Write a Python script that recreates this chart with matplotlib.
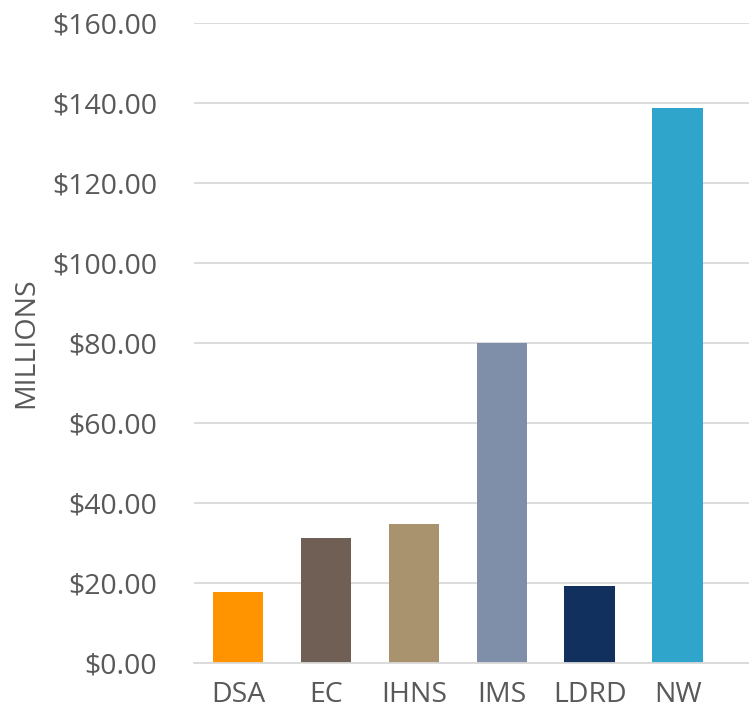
import matplotlib
matplotlib.use("Agg")
import matplotlib.pyplot as plt
from matplotlib.ticker import FuncFormatter

# program funding by line of business, in millions of dollars
programs = ["DSA", "EC", "IHNS", "IMS", "LDRD", "NW"]
funding = [17.7, 31.2, 34.7, 79.9, 19.2, 138.7]
colors = ["#FF9300", "#705F54", "#A9936E", "#7F8FA9", "#11305E", "#2FA5CB"]

plt.rcParams['font.family'] = ['Open Sans', 'DejaVu Sans']
grey = "#595959"

fig = plt.figure(figsize=(7.49, 7.17), dpi=100)
ax = fig.add_axes([194 / 749, 54.3 / 717, 1 - 194 / 749, 640 / 717])

x = range(len(programs))
ax.bar(x, funding, width=0.576, color=colors, zorder=3)

ax.set_ylim(0, 160)
ax.set_xlim(-0.5, 5.81)
ax.set_yticks(range(0, 161, 20))
ax.yaxis.set_major_formatter(FuncFormatter(lambda v, p: "${:,.2f}".format(v)))
ax.set_xticks(list(x))
ax.set_xticklabels(programs)

ax.grid(axis="y", color="#D9D9D9", linewidth=1.3, zorder=0)
for s in ["top", "right", "left"]:
    ax.spines[s].set_visible(False)
ax.spines["bottom"].set_color("#D9D9D9")
ax.spines["bottom"].set_linewidth(1.3)
ax.spines["bottom"].set_zorder(4)

ax.tick_params(axis="both", length=0, labelsize=20.5, colors=grey)
ax.tick_params(axis="y", pad=26.5)
ax.tick_params(axis="x", pad=13)

ax.set_ylabel("MILLIONS", fontsize=20.5, color=grey)
ax.yaxis.set_label_coords(-(194 - 40) / 555, 0.5)

fig.savefig("out.png", dpi=100)
